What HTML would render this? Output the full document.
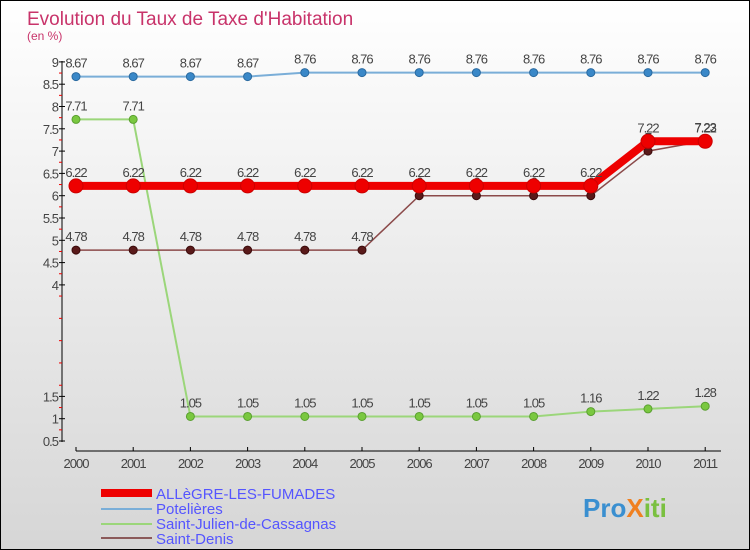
<!DOCTYPE html>
<html><head><meta charset="utf-8"><style>
body{margin:0}
#c{width:748px;height:548px;border:1px solid #000;position:relative;background:linear-gradient(#fff,#d6d6d6);font-family:"Liberation Sans",sans-serif;overflow:hidden}
</style></head><body>
<div id="c">
<svg width="748" height="548" id="svg">
<text x="26" y="24" font-size="19" fill="#c8336a">Evolution du Taux de Taxe d'Habitation</text>
<text x="26" y="39" font-size="12" fill="#c8336a">(en %)</text>
<g id="axes"></g><g id="series"></g>
<g>
<rect x="100" y="488" width="51" height="8" fill="#e00"/>
<text x="155" y="498" font-size="15" fill="#55f">ALLèGRE-LES-FUMADES</text>
<rect x="100" y="507" width="51" height="2" fill="#7aaed8"/>
<text x="155" y="513" font-size="15" fill="#55f">Potelières</text>
<rect x="100" y="522" width="51" height="2" fill="#9bd67a"/>
<text x="155" y="528" font-size="15" fill="#55f">Saint-Julien-de-Cassagnas</text>
<rect x="100" y="536" width="51" height="2" fill="#8b5a5a"/>
<text x="155" y="543" font-size="15" fill="#55f">Saint-Denis</text>
</g>
<text x="582" y="516" font-size="26" font-weight="bold"><tspan fill="#3a8fd0">Pro</tspan><tspan fill="#f08020">X</tspan><tspan fill="#7ac040">iti</tspan></text>
</svg></div>
<script>
const years=[2000,2001,2002,2003,2004,2005,2006,2007,2008,2009,2010,2011];
const yTicks=[0.5,1,1.5,4,4.5,5,5.5,6,6.5,7,7.5,8,8.5,9];
const potelieres=[8.67,8.67,8.67,8.67,8.76,8.76,8.76,8.76,8.76,8.76,8.76,8.76];
const saintJulien=[7.71,7.71,1.05,1.05,1.05,1.05,1.05,1.05,1.05,1.16,1.22,1.28];
const saintDenis=[4.78,4.78,4.78,4.78,4.78,4.78,6,6,6,6,7,7.23];
const allegre=[6.22,6.22,6.22,6.22,6.22,6.22,6.22,6.22,6.22,6.22,7.22,7.22];
const NS="http://www.w3.org/2000/svg";
const x=i=>75+i*57.2;
const y=v=>440-(v-0.5)*44.6;
function mk(t,a,p){const e=document.createElementNS(NS,t);for(const k in a)e.setAttribute(k,a[k]);p.appendChild(e);return e;}
const ax=document.getElementById('axes');
let l=mk('line',{x1:61,y1:60,x2:61,y2:441,stroke:'#000'},ax);


for(let k=0;k<17;k++){
 const m=mk('line',{x1:58,x2:61,y1:y(0.75+k*0.5),y2:y(0.75+k*0.5),stroke:'#e00'},ax);
 
 
}
yTicks.forEach(v=>{
 const t=mk('line',{x1:58,x2:64,y1:y(v),y2:y(v),stroke:'#000'},ax);
 
 
 const tx=mk('text',{x:57,y:y(v)+5,'font-size':13,'text-anchor':'end',fill:'#444','letter-spacing':'-1'},ax);
 tx.textContent=String(v);
 
 
});
l=mk('line',{x1:75,y1:450,x2:720,y2:450,stroke:'#000'},ax);


years.forEach((yr,i)=>{
 const t=mk('line',{x1:x(i),x2:x(i),y1:446,y2:450,stroke:'#000'},ax);
 
 
 const tx=mk('text',{x:x(i),y:467,'font-size':13,'text-anchor':'middle',fill:'#444','letter-spacing':'-1'},ax);
 tx.textContent=yr;
 
 
});
const sg=document.getElementById('series');
function draw(vals,name,col,w,r,dot,stroke){
 const g=mk('g',{},sg);
 
 
 const p=mk('polyline',{points:vals.map((v,i)=>x(i)+','+y(v)).join(' '),fill:'none',stroke:col,'stroke-width':w},g);
 
 
 vals.forEach((v,i)=>{
  const c=mk('circle',{cx:x(i),cy:y(v),r:r,fill:dot,stroke:stroke,'stroke-width':1},g);
  
  
  const t=mk('text',{x:x(i),y:y(v)-9,'font-size':13,'text-anchor':'middle',fill:'#444','letter-spacing':'-1'},g);
  t.textContent=String(v);
  
  
 });
}
draw(potelieres,'potelieres','#7aaed8',2,4,'#3a88c8','#2a6aa0');
draw(saintJulien,'saint-julien','#9bd67a',2,4,'#7ac840','#5aa030');
draw(saintDenis,'saint-denis','#8b4a4a',1.5,4,'#5a1a1a','#3a0a0a');
draw(allegre,'allegre','#e00',8,7,'#e00','#c00');
</script>
</body></html>
